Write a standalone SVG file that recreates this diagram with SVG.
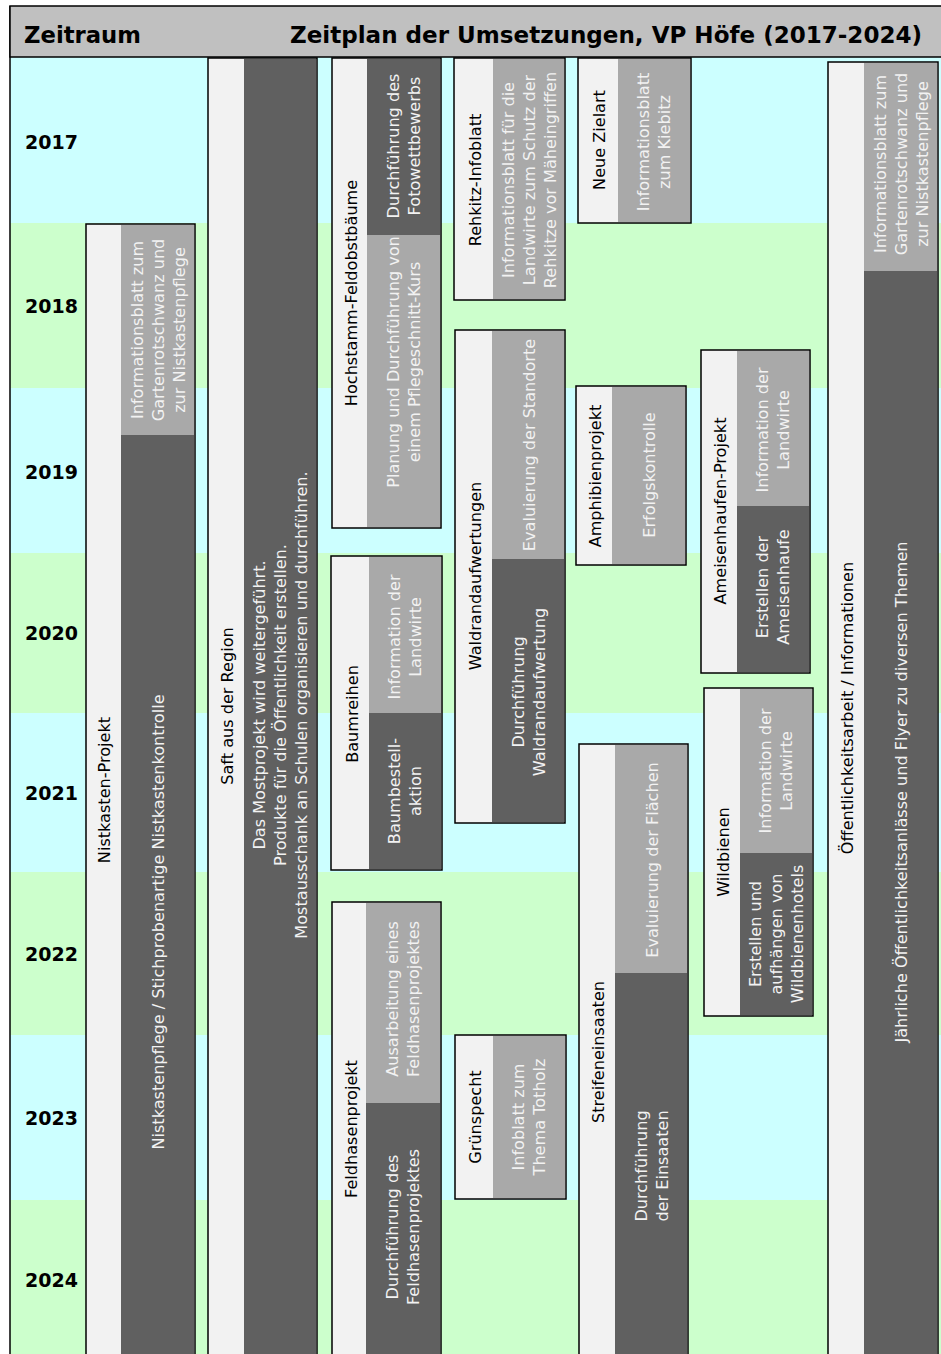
<svg xmlns="http://www.w3.org/2000/svg" width="941" height="1354" viewBox="0 0 941 1354">
<style>
.cy{fill:#CCFFFF}.gr{fill:#CCFFCC}
.box{fill:#F2F2F2;stroke:#000;stroke-width:1.5}
.mid{fill:#A9A9A9}.dk{fill:#606060}
.t{font-family:"DejaVu Sans",Verdana,sans-serif;font-size:16.1px;text-anchor:middle}
.tt{fill:#000}.tw{fill:#F2F2F2}
.yr{font-family:"DejaVu Sans",Verdana,sans-serif;font-weight:bold;font-size:19px;fill:#000}
.hd{font-family:"DejaVu Sans",Verdana,sans-serif;font-weight:bold;font-size:23px;fill:#000}
</style>
<g id="background">
<rect x="0" y="0" width="941" height="1354" fill="#FFFFFF"/>
<rect class="cy" x="10" y="57" width="931" height="166"/>
<rect class="gr" x="10" y="223" width="931" height="165"/>
<rect class="cy" x="10" y="388" width="931" height="165"/>
<rect class="gr" x="10" y="553" width="931" height="160"/>
<rect class="cy" x="10" y="713" width="931" height="159"/>
<rect class="gr" x="10" y="872" width="931" height="163"/>
<rect class="cy" x="10" y="1035" width="931" height="165"/>
<rect class="gr" x="10" y="1200" width="931" height="154"/>
<line x1="10" y1="6" x2="10" y2="1354" stroke="#000" stroke-width="1.5"/>
</g>
<g id="header">
<rect x="10" y="6" width="940" height="51" fill="#C0C0C0" stroke="#000" stroke-width="1.5"/>
<text class="hd" x="24" y="43" textLength="117" lengthAdjust="spacingAndGlyphs">Zeitraum</text>
<text class="hd" x="290" y="43" textLength="632" lengthAdjust="spacingAndGlyphs">Zeitplan der Umsetzungen, VP Höfe (2017-2024)</text>
</g>
<g id="years">
<text class="yr" x="25" y="149">2017</text>
<text class="yr" x="25" y="313">2018</text>
<text class="yr" x="25" y="479">2019</text>
<text class="yr" x="25" y="640">2020</text>
<text class="yr" x="25" y="800">2021</text>
<text class="yr" x="25" y="961">2022</text>
<text class="yr" x="25" y="1125">2023</text>
<text class="yr" x="25" y="1287">2024</text>
</g>
<g id="connectors"></g>
<g id="nistkasten">
<rect class="box" x="86" y="224" width="109" height="1140"/>
<rect class="mid" x="121" y="225" width="73" height="210"/>
<rect class="dk" x="121" y="435" width="73" height="925"/>
<text class="t tt" transform="translate(104,790) rotate(-90)" dy="5.5">Nistkasten-Projekt</text>
<text class="t tw" transform="translate(158,330) rotate(-90)"><tspan x="0" dy="-15.5">Informationsblatt zum</tspan><tspan x="0" dy="21">Gartenrotschwanz und</tspan><tspan x="0" dy="21">zur Nistkastenpflege</tspan></text>
<text class="t tw" transform="translate(158,922) rotate(-90)" dy="5.5">Nistkastenpflege / Stichprobenartige Nistkastenkontrolle</text>
</g>
<g id="saft">
<rect class="box" x="208" y="58" width="109" height="1306"/>
<rect class="dk" x="244" y="59" width="72" height="1300"/>
<text class="t tt" transform="translate(227,706) rotate(-90)" dy="5.5">Saft aus der Region</text>
<text class="t tw" transform="translate(280,705) rotate(-90)"><tspan x="0" dy="-15.5">Das Mostprojekt wird weitergeführt.</tspan><tspan x="0" dy="21">Produkte für die Öffentlichkeit erstellen.</tspan><tspan x="0" dy="21">Mostausschank an Schulen organisieren und durchführen.</tspan></text>
</g>
<g id="hochstamm">
<rect class="box" x="332" y="58" width="109" height="470"/>
<rect class="dk" x="367" y="59" width="73" height="176"/>
<rect class="mid" x="367" y="235" width="73" height="292"/>
<text class="t tt" transform="translate(351,293) rotate(-90)" dy="5.5">Hochstamm-Feldobstbäume</text>
<text class="t tw" transform="translate(404,146) rotate(-90)"><tspan x="0" dy="-5">Durchführung des</tspan><tspan x="0" dy="21">Fotowettbewerbs</tspan></text>
<text class="t tw" transform="translate(404,362) rotate(-90)"><tspan x="0" dy="-5">Planung und Durchführung von</tspan><tspan x="0" dy="21">einem Pflegeschnitt-Kurs</tspan></text>
</g>
<g id="baumreihen">
<rect class="box" x="331" y="556" width="111" height="314"/>
<rect class="mid" x="369" y="557" width="72" height="156"/>
<rect class="dk" x="369" y="713" width="72" height="156"/>
<text class="t tt" transform="translate(352,714) rotate(-90)" dy="5.5">Baumreihen</text>
<text class="t tw" transform="translate(405,637) rotate(-90)"><tspan x="0" dy="-5">Information der</tspan><tspan x="0" dy="21">Landwirte</tspan></text>
<text class="t tw" transform="translate(405,791) rotate(-90)"><tspan x="0" dy="-5">Baumbestell-</tspan><tspan x="0" dy="21">aktion</tspan></text>
</g>
<g id="feldhasen">
<rect class="box" x="332" y="902" width="109" height="462"/>
<rect class="mid" x="366" y="903" width="74" height="200"/>
<rect class="dk" x="366" y="1103" width="74" height="257"/>
<text class="t tt" transform="translate(351,1129) rotate(-90)" dy="5.5">Feldhasenprojekt</text>
<text class="t tw" transform="translate(403,999) rotate(-90)"><tspan x="0" dy="-5">Ausarbeitung eines</tspan><tspan x="0" dy="21">Feldhasenprojektes</tspan></text>
<text class="t tw" transform="translate(403,1227) rotate(-90)"><tspan x="0" dy="-5">Durchführung des</tspan><tspan x="0" dy="21">Feldhasenprojektes</tspan></text>
</g>
<g id="rehkitz">
<rect class="box" x="454" y="58" width="111" height="242"/>
<rect class="mid" x="493" y="59" width="71" height="240"/>
<text class="t tt" transform="translate(475,180) rotate(-90)" dy="5.5">Rehkitz-Infoblatt</text>
<text class="t tw" transform="translate(529,180) rotate(-90)"><tspan x="0" dy="-15.5">Informationsblatt für die</tspan><tspan x="0" dy="21">Landwirte zum Schutz der</tspan><tspan x="0" dy="21">Rehkitze vor Mäheingriffen</tspan></text>
</g>
<g id="waldrand">
<rect class="box" x="455" y="330" width="110" height="493"/>
<rect class="mid" x="492" y="331" width="72" height="228"/>
<rect class="dk" x="492" y="559" width="72" height="263"/>
<text class="t tt" transform="translate(475,576) rotate(-90)" dy="5.5">Waldrandaufwertungen</text>
<text class="t tw" transform="translate(529,445) rotate(-90)" dy="5.5">Evaluierung der Standorte</text>
<text class="t tw" transform="translate(529,692) rotate(-90)"><tspan x="0" dy="-5">Durchführung</tspan><tspan x="0" dy="21">Waldrandaufwertung</tspan></text>
</g>
<g id="gruenspecht">
<rect class="box" x="455" y="1035" width="111" height="164"/>
<rect class="mid" x="493" y="1036" width="72" height="162"/>
<text class="t tt" transform="translate(475,1117) rotate(-90)" dy="5.5">Grünspecht</text>
<text class="t tw" transform="translate(529,1117) rotate(-90)"><tspan x="0" dy="-5">Infoblatt zum</tspan><tspan x="0" dy="21">Thema Totholz</tspan></text>
</g>
<g id="neue-zielart">
<rect class="box" x="578" y="58" width="113" height="165"/>
<rect class="mid" x="618" y="59" width="72" height="163"/>
<text class="t tt" transform="translate(599,140) rotate(-90)" dy="5.5">Neue Zielart</text>
<text class="t tw" transform="translate(654,142) rotate(-90)"><tspan x="0" dy="-5">Informationsblatt</tspan><tspan x="0" dy="21">zum Kiebitz</tspan></text>
</g>
<g id="amphibien">
<rect class="box" x="576" y="386" width="110" height="179"/>
<rect class="mid" x="612" y="387" width="73" height="177"/>
<text class="t tt" transform="translate(595,476) rotate(-90)" dy="5.5">Amphibienprojekt</text>
<text class="t tw" transform="translate(649,475) rotate(-90)" dy="5.5">Erfolgskontrolle</text>
</g>
<g id="streifen">
<rect class="box" x="579" y="744" width="109" height="620"/>
<rect class="mid" x="615" y="745" width="72" height="228"/>
<rect class="dk" x="615" y="973" width="72" height="387"/>
<text class="t tt" transform="translate(598,1052) rotate(-90)" dy="5.5">Streifeneinsaaten</text>
<text class="t tw" transform="translate(652,860) rotate(-90)" dy="5.5">Evaluierung der Flächen</text>
<text class="t tw" transform="translate(652,1166) rotate(-90)"><tspan x="0" dy="-5">Durchführung</tspan><tspan x="0" dy="21">der Einsaaten</tspan></text>
</g>
<g id="ameisenhaufen">
<rect class="box" x="701" y="350" width="109" height="323"/>
<rect class="mid" x="737" y="351" width="72" height="155"/>
<rect class="dk" x="737" y="506" width="72" height="166"/>
<text class="t tt" transform="translate(720,511) rotate(-90)" dy="5.5">Ameisenhaufen-Projekt</text>
<text class="t tw" transform="translate(773,430) rotate(-90)"><tspan x="0" dy="-5">Information der</tspan><tspan x="0" dy="21">Landwirte</tspan></text>
<text class="t tw" transform="translate(773,587) rotate(-90)"><tspan x="0" dy="-5">Erstellen der</tspan><tspan x="0" dy="21">Ameisenhaufe</tspan></text>
</g>
<g id="wildbienen">
<rect class="box" x="704" y="688" width="109" height="328"/>
<rect class="mid" x="740" y="689" width="72" height="164"/>
<rect class="dk" x="740" y="853" width="72" height="162"/>
<text class="t tt" transform="translate(723,852) rotate(-90)" dy="5.5">Wildbienen</text>
<text class="t tw" transform="translate(776,771) rotate(-90)"><tspan x="0" dy="-5">Information der</tspan><tspan x="0" dy="21">Landwirte</tspan></text>
<text class="t tw" transform="translate(776,934) rotate(-90)"><tspan x="0" dy="-15.5">Erstellen und</tspan><tspan x="0" dy="21">aufhängen von</tspan><tspan x="0" dy="21">Wildbienenhotels</tspan></text>
</g>
<g id="oeffentlichkeit">
<rect class="box" x="828" y="62" width="110" height="1302"/>
<rect class="mid" x="864" y="63" width="73" height="208"/>
<rect class="dk" x="864" y="271" width="73" height="1089"/>
<text class="t tt" transform="translate(847,708) rotate(-90)" dy="5.5">Öffentlichkeitsarbeit / Informationen</text>
<text class="t tw" transform="translate(901,164) rotate(-90)"><tspan x="0" dy="-15.5">Informationsblatt zum</tspan><tspan x="0" dy="21">Gartenrotschwanz und</tspan><tspan x="0" dy="21">zur Nistkastenpflege</tspan></text>
<text class="t tw" transform="translate(901,792) rotate(-90)" dy="5.5">Jährliche Öffentlichkeitsanlässe und Flyer zu diversen Themen</text>
</g>
</svg>
